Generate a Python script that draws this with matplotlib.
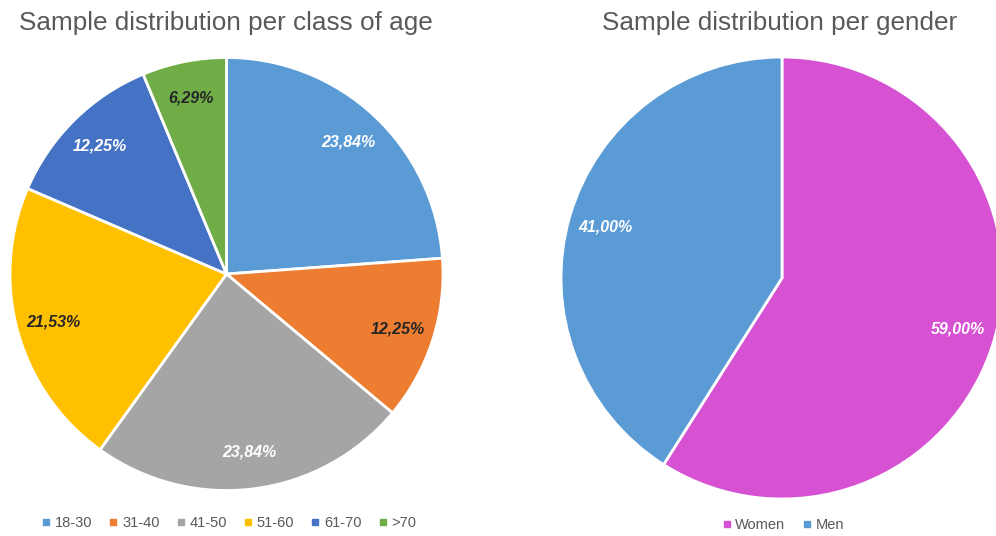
import matplotlib
matplotlib.use("Agg")
import matplotlib.pyplot as plt
from matplotlib.lines import Line2D

plt.rcParams['font.family'] = ['Liberation Sans', 'DejaVu Sans']

# --- Data ---
AGE_CLASSES = ["18-30", "31-40", "41-50", "51-60", "61-70", ">70"]
AGE_SHARES = [23.84, 12.25, 23.84, 21.53, 12.25, 6.29]
AGE_COLORS = ['#5B9BD5', '#ED7D31', '#A5A5A5', '#FFC000', '#4472C4', '#70AD47']
AGE_TEXT_COLORS = ['white', '#262626', 'white', '#262626', 'white', '#262626']

GENDERS = ["Women", "Men"]
GENDER_SHARES = [59.00, 41.00]
GENDER_COLORS = ['#D652D2', '#5B9BD5']
GENDER_TEXT_COLORS = ['white', 'white']

TITLE_COLOR = '#595959'
W, H = 996, 536
PAD = 1.03


def pie_axes(fig, cx, cy, r):
    """Axes (pixel coords, y from top) holding a unit pie of radius r px."""
    half = r * PAD
    return fig.add_axes([(cx - half) / W, (H - cy - half) / H, 2 * half / W, 2 * half / H])


def draw_pie(ax, values, colors, text_colors):
    wedges, _, autotexts = ax.pie(values, colors=colors, startangle=90, counterclock=False,
                                  autopct=lambda p: f"{p:.2f}%".replace('.', ','),
                                  pctdistance=0.83, radius=1.0,
                                  wedgeprops=dict(edgecolor='white', linewidth=2))
    for t, c in zip(autotexts, text_colors):
        t.set_color(c)
        t.set_fontsize(11.5)
        t.set_fontweight('bold')
        t.set_fontstyle('italic')
    ax.set_xlim(-PAD, PAD)
    ax.set_ylim(-PAD, PAD)
    ax.set_aspect('equal')
    ax.axis('off')
    return wedges


def add_legend(fig, labels, colors, cx, cy):
    handles = [Line2D([], [], marker='s', linestyle='none', markersize=4,
                      markerfacecolor=c, markeredgecolor=c) for c in colors]
    fig.legend(handles, labels, loc='center', bbox_to_anchor=(cx / W, 1 - cy / H),
               ncol=len(labels), frameon=False, fontsize=10.5, handlelength=0.6,
               handletextpad=0.3, columnspacing=1.15, labelcolor=TITLE_COLOR)


fig = plt.figure(figsize=(W / 100, H / 100), dpi=100)

ax1 = pie_axes(fig, 226.5, 274, 216.5)
draw_pie(ax1, AGE_SHARES, AGE_COLORS, AGE_TEXT_COLORS)
fig.text(226 / W, 1 - 23 / H, "Sample distribution per class of age", ha='center', va='center',
         fontsize=18.8, color=TITLE_COLOR)
add_legend(fig, AGE_CLASSES, AGE_COLORS, 229, 523)

ax2 = pie_axes(fig, 782, 278, 221)
draw_pie(ax2, GENDER_SHARES, GENDER_COLORS, GENDER_TEXT_COLORS)
fig.text(780 / W, 1 - 23 / H, "Sample distribution per gender", ha='center', va='center',
         fontsize=18.8, color=TITLE_COLOR)
add_legend(fig, GENDERS, GENDER_COLORS, 783, 525)

fig.savefig("out.png", dpi=100)
